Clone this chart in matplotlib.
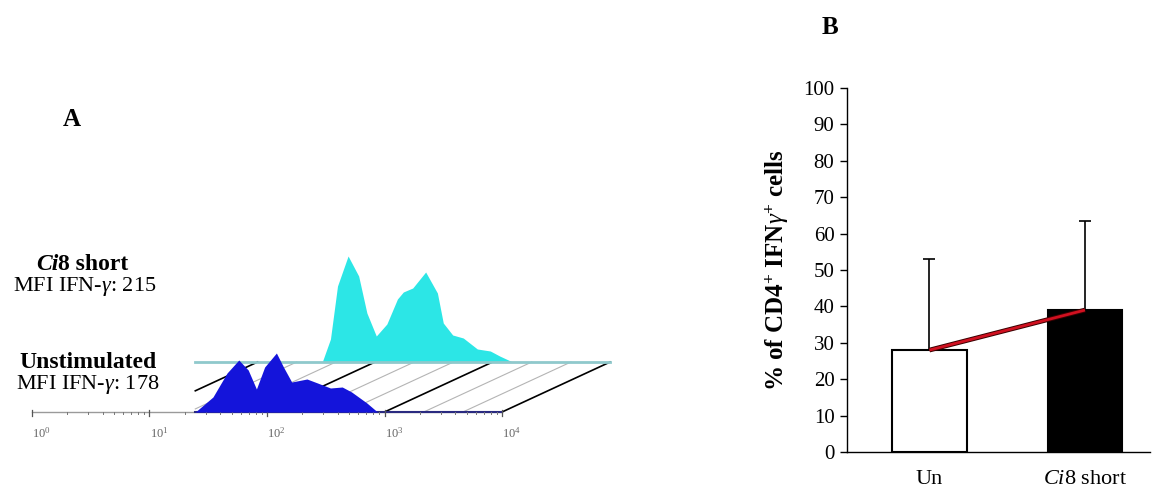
import numpy as np
import matplotlib
matplotlib.use("Agg")
import matplotlib.pyplot as plt

plt.rcParams['font.family'] = ['Liberation Serif', 'DejaVu Serif']
plt.rcParams['mathtext.fontset'] = 'custom'
plt.rcParams['mathtext.rm'] = 'Liberation Serif'
plt.rcParams['mathtext.it'] = 'Liberation Serif:italic'
plt.rcParams['mathtext.bf'] = 'Liberation Serif:bold'

# ---- panel A: IFN-gamma histograms (x in log10 decades, y in counts) ----
unstim_logx = [1.39, 1.54, 1.66, 1.76, 1.84, 1.91, 1.98, 2.08, 2.14, 2.21,
               2.34, 2.43, 2.54, 2.64, 2.72, 2.85, 2.94]
unstim_count = [0, 15, 39, 52, 42, 23, 45, 59, 45, 30,
                33, 29, 24, 25, 20, 9, 0]

ci8_logx = [1.55, 1.62, 1.68, 1.77, 1.86, 1.93, 2.01, 2.10, 2.19, 2.24,
            2.32, 2.43, 2.53, 2.58, 2.66, 2.75, 2.87, 2.98, 3.06, 3.17]
ci8_count = [0, 23, 76, 106, 86, 49, 26, 38, 63, 70,
             74, 90, 69, 39, 27, 24, 13, 11, 6, 0]

decades = [0, 1, 2, 3, 4]

# ---- panel B: % CD4+ IFNg+ cells ----
groups = ['Un', r'$\mathit{Ci}$8 short']
pct_mean = [28, 39]
pct_sd = [25, 24.5]

# layout of the pseudo-3D view
DX, DY = 0.92, 50          # shift of the back histogram (decades, counts)
X_LEFT = 1.39              # left edge of the floor

fig = plt.figure(figsize=(11.55, 4.9), dpi=100)

# ============================ panel A ============================
ax = fig.add_axes([0, 0, 640 / 1155, 1])
ax.set_xlim(-0.272, 5.174)
ax.set_ylim(-78, 412)
ax.axis('off')

# hatched floor
for d in [1, 2, 3]:
    for frac, col, lw in [(0, 'black', 1.2), (1 / 3, '#b4b4b4', 0.8), (2 / 3, '#b4b4b4', 0.8)]:
        x0 = d + frac
        x1 = x0 + DX
        if x1 <= X_LEFT:
            continue
        if x0 < X_LEFT:
            y0 = DY * (X_LEFT - x0) / DX
            x0 = X_LEFT
        else:
            y0 = 0
        ax.plot([x0, x1], [y0, DY], color=col, lw=lw, zorder=1)
ax.plot([4, 4 + DX], [0, DY], color='black', lw=1.2, zorder=1)

# back histogram (Ci8 short)
ax.fill_between(np.array(ci8_logx) + DX, DY, np.array(ci8_count) + DY,
                color='#2ce6e6', lw=0, zorder=2)
ax.plot([X_LEFT, 4 + DX], [DY, DY], color='#8fc9cc', lw=2, zorder=3)

# front axis
ax.plot([0, 4], [0, 0], color='#9a9a9a', lw=1, zorder=2)
ax.plot([X_LEFT, 4], [0, 0], color='#2a2a80', lw=1.5, zorder=4)
for d in decades:
    ax.plot([d, d], [-4, 2], color='#555555', lw=0.9, zorder=4)
    ax.text(d + 0.08, -21, r'$10^{%d}$' % d, fontsize=9, color='#666666',
            ha='center', va='center')
    if d < 4:
        for k in range(2, 10):
            lx = d + np.log10(k)
            ax.plot([lx, lx], [-2, 0], color='#777777', lw=0.7, zorder=4)

# front histogram (unstimulated)
ax.fill_between(unstim_logx, 0, unstim_count, color='#1414da', lw=0, zorder=5)

# labels
ax.text(72 / 117.5 - 0.272, 412 - 120, 'A', fontsize=18, fontweight='bold',
        ha='center', va='center')
t1 = ax.text(-0.272 + 36 / 117.5, 412 - 265, 'Ci', fontsize=17, fontweight='bold',
             style='italic', ha='left', va='center')
ax.annotate('8 short', xy=(1, 0), xycoords=t1, fontsize=17, fontweight='bold',
            ha='left', va='bottom')
ax.text(-0.272 + 85 / 117.5, 412 - 287, r'MFI IFN-$\gamma$: 215', fontsize=16,
        ha='center', va='center')
ax.text(-0.272 + 88 / 117.5, 412 - 362, 'Unstimulated', fontsize=17,
        fontweight='bold', ha='center', va='center')
ax.text(-0.272 + 88 / 117.5, 412 - 385, r'MFI IFN-$\gamma$: 178', fontsize=16,
        ha='center', va='center')

# ============================ panel B ============================
bx = fig.add_axes([847 / 1155, 38 / 490, 303 / 1155, 364 / 490])
xpos = np.arange(len(groups))
bx.bar(xpos, pct_mean, width=0.48, color=['white', 'black'],
       edgecolor='black', linewidth=1.5, zorder=2)
bx.errorbar(xpos, pct_mean, yerr=[[0, 0], pct_sd], fmt='none', ecolor='black',
            elinewidth=1.2, capsize=4, capthick=1.2, zorder=3)
bx.plot(xpos, pct_mean, color='#3a0000', lw=3.4, zorder=4, solid_capstyle='butt')
bx.plot(xpos, pct_mean, color='#d01020', lw=2.0, zorder=5, solid_capstyle='butt')

bx.set_xlim(-0.53, 1.418)
bx.set_ylim(0, 100)
bx.set_yticks(range(0, 101, 10))
bx.tick_params(axis='y', labelsize=15, length=5, width=1, pad=4)
bx.set_xticks(xpos)
bx.set_xticklabels(groups, fontsize=16)
bx.tick_params(axis='x', length=0, pad=13)
for s in ['top', 'right']:
    bx.spines[s].set_visible(False)
bx.spines['left'].set_linewidth(1)
bx.spines['bottom'].set_linewidth(1)
bx.set_ylabel(r'% of CD4$^{\mathbf{+}}$ IFN$\gamma^{\mathbf{+}}$ cells',
              fontsize=18, fontweight='bold')
bx.yaxis.set_label_coords(-0.185, 0.5)

fig.text(830 / 1155, 1 - 27 / 490, 'B', fontsize=18, fontweight='bold',
         ha='center', va='center')

fig.savefig('out.png', dpi=100)
